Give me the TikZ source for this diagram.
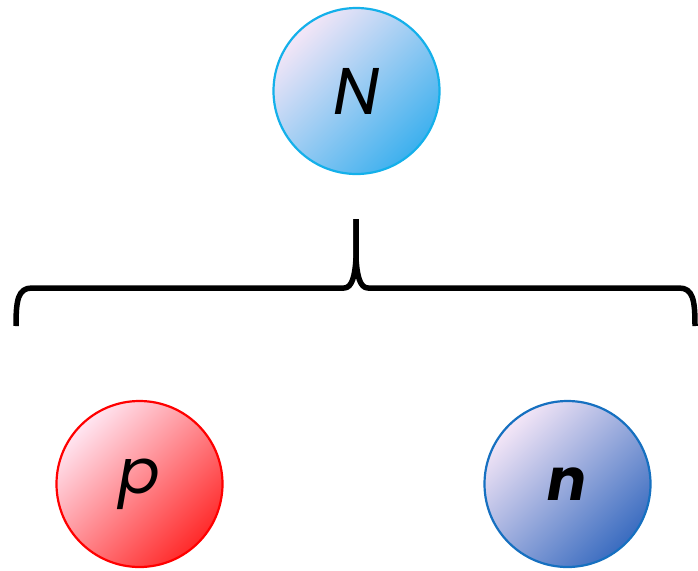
\documentclass[tikz,border=0pt]{standalone}
\usepackage{fontspec}
\setmainfont{Poppins}
\definecolor{pinkA}{HTML}{F4E6F7}
\definecolor{pinkB}{HTML}{FFE6F2}
\definecolor{blueN}{HTML}{3DB0EE}
\definecolor{blueNb}{HTML}{14B0EA}
\definecolor{redP}{HTML}{FF2A2A}
\definecolor{redPb}{HTML}{FF0000}
\definecolor{blueD}{HTML}{3A6CC0}
\definecolor{blueDb}{HTML}{1670C0}
\begin{document}
\begin{tikzpicture}[x=1pt,y=-1pt,
  particle/.style={circle,minimum size=166pt,inner sep=0pt,line width=2.2pt},
  brace/.style={line width=5.5pt,line cap=butt,line join=round}]
\useasboundingbox (0,0) rectangle (698,570);
\node[particle,draw=blueNb,top color=pinkA,bottom color=blueN,shading angle=45] (N) at (356.5,91) {\fontsize{66}{70}\selectfont\itshape N};
\node[particle,draw=redPb,top color=pinkB,bottom color=redP,shading angle=45] (p) at (139.5,484) {\fontsize{62}{66}\selectfont\itshape p};
\node[particle,draw=blueDb,top color=pinkA,bottom color=blueD,shading angle=45] (n) at (567.5,484) {\fontsize{58}{62}\selectfont\bfseries\itshape n};
\coordinate (bl) at (16,326);
\coordinate (br) at (695,326);
\coordinate (tip) at (356,219);
\draw[brace] (bl) .. controls (16,300) and (18,288) .. (32,288) -- (344,288)
  .. controls (352,288) and (355,276) .. (356,258) -- (tip);
\draw[brace] (br) .. controls (695,300) and (693,288) .. (679,288) -- (368,288)
  .. controls (360,288) and (357,276) .. (356,258) -- (tip);
\end{tikzpicture}
\end{document}
